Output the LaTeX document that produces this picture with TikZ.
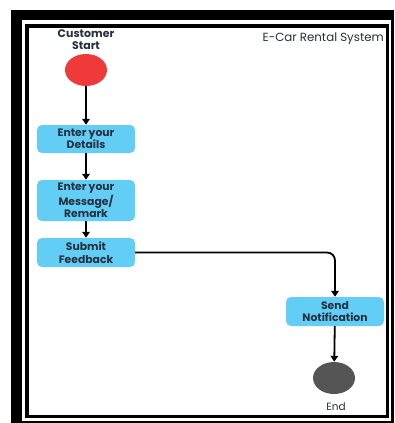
\documentclass[tikz,border=0pt]{standalone}
\usepackage{fontspec}
\setmainfont{Poppins}
\usetikzlibrary{arrows.meta,shapes.geometric}
\definecolor{boxblue}{RGB}{98,206,245}
\definecolor{startred}{RGB}{240,58,58}
\definecolor{endgray}{RGB}{85,85,85}
\definecolor{txt}{RGB}{38,48,64}
\tikzset{
  actbox/.style={draw=none, fill=boxblue, rounded corners=5pt, minimum width=98pt,
    align=center, text=txt, font=\fontsize{10.8}{12.5}\selectfont\bfseries, inner sep=0pt},
  flow/.style={line width=1.8pt, -{Triangle[width=7.5pt,length=6pt]}},
  lbl/.style={align=center, text=txt, inner sep=0pt}
}
\begin{document}
\begin{tikzpicture}[x=1pt,y=-1pt]
\useasboundingbox (0,0) rectangle (394,423);
% frame
\fill[black] (11,10) rectangle (394,423);
\fill[white] (22,20) rectangle (391,421);
\draw[line width=3.5pt] (27,26) rectangle (387.5,416.5);
% title
\node[lbl, anchor=east, font=\fontsize{11.8}{13}\selectfont] (title) at (384,39) {E-Car Rental System};
% start
\node[lbl, font=\fontsize{11}{12.5}\selectfont\bfseries] (startlbl) at (86,39.5) {Customer\\Start};
\node[ellipse, fill=startred, minimum width=42pt, minimum height=32pt, inner sep=0pt] (start) at (86,70) {};
\node[actbox, minimum height=28pt] (b1) at (86,139) {Enter your\\Details};
\node[actbox, minimum height=41pt] (b2) at (86,200.5) {Enter your\\Message/\\Remark};
\node[actbox, minimum height=29pt] (b3) at (86,252.5) {Submit\\Feedback};
\node[actbox, minimum height=29pt] (b4) at (335,311.5) {Send\\Notification};
\node[ellipse, fill=endgray, minimum width=42pt, minimum height=32pt, inner sep=0pt] (endn) at (334,378) {};
\node[lbl, font=\fontsize{10.5}{12}\selectfont] (endlbl) at (336,407) {End};
% connectors
\draw[flow] (start) -- (b1);
\draw[flow] (b1) -- (b2);
\draw[flow] (b2) -- (b3);
\draw[flow, rounded corners=8pt] (b3.east) -| (b4.north);
\draw[flow] (b4) -- (endn);
\end{tikzpicture}
\end{document}
